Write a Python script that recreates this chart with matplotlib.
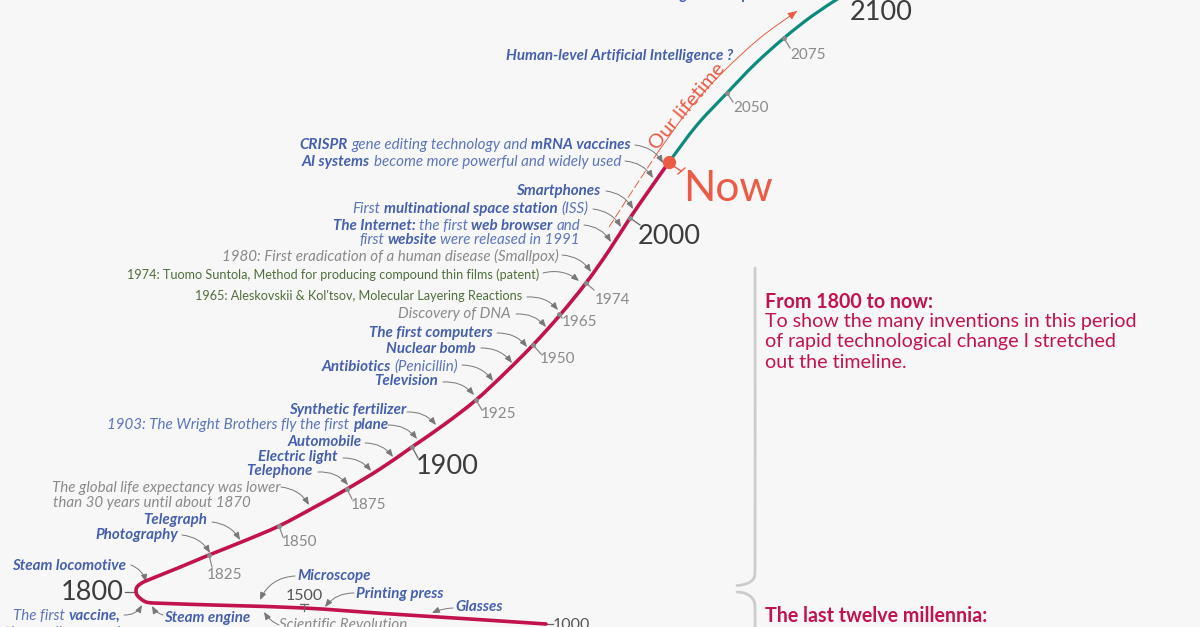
"""Timeline of technology: stretched curve from the last millennia to 2100."""

import matplotlib
matplotlib.use('Agg')
import matplotlib.pyplot as plt
import numpy as np
from matplotlib.patches import FancyArrowPatch, PathPatch
from matplotlib.path import Path

plt.rcParams['font.family'] = ['Lato', 'DejaVu Sans']

BG = '#f7f7f7'
CRIMSON = '#c2124f'
TEAL = '#0c8a7c'
CORAL = '#ea5c45'
BLUE = '#4660ad'
LIGHT_BLUE = '#5d75bb'
GREY = '#8a8a8a'
DARK = '#3c3c3c'
GREEN = '#4f6f3c'
ARROW = '#777777'
BRACKET = '#cccccc'

# Curve, pixel positions from 1000 to now
past_x = [546, 470, 384, 304, 230, 153, 146, 141, 137, 136, 137, 141, 147, 178, 209, 244, 279, 313,
          347, 380, 412, 445, 476, 505, 533, 560, 586, 608, 630, 650, 669]
past_y = [624, 619, 613.5, 608, 605.5, 603, 602, 599, 595, 591, 587, 583.5, 580.5, 568, 555, 541, 526, 508,
          489, 469, 447, 424, 400, 373, 345, 315, 283, 252, 218, 189, 162]
future_x = [669, 697, 727, 755, 784, 812, 842]
future_y = [162, 125, 93, 64, 38, 16, -4]

# Thin "Our lifetime" line
life_dash_x = [609, 633, 658]
life_dash_y = [227, 190, 152]
life_x = [658, 690, 723, 760, 797]
life_y = [152, 108, 72, 38, 11]

# Year ticks: label, curve point, tick end, label left edge, label y
small_years = ['1825', '1850', '1875', '1925', '1950', '1965', '1974', '2050', '2075']
small_tick_x = [209, 279, 347, 476, 533, 559, 586, 727, 784]
small_tick_y = [555, 526, 489, 400, 345, 314, 283, 93, 38]
small_end_x = [212, 283, 352, 482, 541, 562, 594, 733, 790]
small_end_y = [567, 537, 499, 410, 354, 318, 290, 102, 48]
small_label_x = [207, 282, 351, 481, 540, 562, 595, 733, 790]
small_label_y = [573, 540, 503, 412, 357, 320, 298, 106, 53]

big_years = ['1900', '2000', '2100']
big_tick_x = [412, 630]
big_tick_y = [447, 218]
big_end_x = [418, 640]
big_end_y = [458, 225]
big_label_x = [416, 638, 850]
big_label_y = [464, 234, 11]

# Blue/grey notes: text runs as (text, bold), right edge, y, colour
notes = [
    ([('Steam locomotive', True)], 126, 565, BLUE),
    ([('Photography', True)], 178, 534, BLUE),
    ([('Telegraph', True)], 207, 519, BLUE),
    ([('Telephone', True)], 313, 470, BLUE),
    ([('Electric light', True)], 338, 456, BLUE),
    ([('Automobile', True)], 362, 441, BLUE),
    ([('1903: The Wright Brothers fly the first', False), ('plane', True)], 388, 424, BLUE),
    ([('Synthetic fertilizer', True)], 406, 409, BLUE),
    ([('Television', True)], 438, 380, BLUE),
    ([('Antibiotics', True), ('(Penicillin)', False)], 458, 366, BLUE),
    ([('Nuclear bomb', True)], 476, 348, BLUE),
    ([('The first computers', True)], 493, 332, BLUE),
    ([('Discovery of DNA', False)], 511, 313, GREY),
    ([('1980: First eradication of a human disease (Smallpox)', False)], 559, 255, GREY),
    ([('first', False), ('website', True), ('were released in 1991', False)], 580, 239, BLUE),
    ([('The Internet:', True), ('the first', False), ('web browser', True), ('and', False)], 580, 225, BLUE),
    ([('First', False), ('multinational space station', True), ('(ISS)', False)], 588, 208, BLUE),
    ([('Smartphones', True)], 600, 190, BLUE),
    ([('AI systems', True), ('become more powerful and widely used', False)], 621, 161, BLUE),
    ([('CRISPR', True), ('gene editing technology and', False), ('mRNA vaccines', True)], 631, 144, BLUE),
    ([('Human-level Artificial Intelligence ?', True)], 733, 55, BLUE),
    ([('Microscope', True)], 371, 575, BLUE),
    ([('Printing press', True)], 444, 593, BLUE),
    ([('Glasses', True)], 503, 606, BLUE),
    ([('Steam engine', True)], 250, 617, BLUE),
    ([('Scientific Revolution', False)], 407, 624, GREY),
    ([('The first', False), ('vaccine,', True)], 120, 615, BLUE),
    ([('the smallpox vaccine', False)], 135, 632, BLUE),
    ([('The global life expectancy was lower', False)], 280, 487, GREY),
    ([('than 30 years until about 1870', False)], 251, 502, GREY),
]

green_notes = ['1965: Aleskovskii & Kol\'tsov, Molecular Layering Reactions',
               '1974: Tuomo Suntola, Method for producing compound thin films (patent)']
green_right = [522, 539]
green_y = [295, 274]

# Arrows from notes to the curve: start x, start y, end x, end y, bend
arrow_x0 = [131, 182, 212, 281, 318, 343, 365, 388, 407, 443, 462, 481, 497, 516, 527, 543, 562, 584, 593, 606, 625, 635,
            295, 354, 453, 163, 279, 124]
arrow_y0 = [565, 535, 522, 487, 472, 458, 443, 425, 412, 382, 365, 348, 333, 314, 297, 273, 255, 225, 209, 191, 161, 145,
            576, 593, 608, 615, 625, 615]
arrow_x1 = [146, 210, 240, 309, 348, 371, 393, 417, 436, 474, 493, 512, 527, 546, 558, 579, 591, 611, 621, 633, 653, 663,
            260, 325, 432, 152, 264, 142]
arrow_y1 = [582, 553, 540, 505, 485, 471, 457, 439, 425, 395, 381, 363, 347, 327, 310, 281, 272, 242, 227, 209, 178, 163,
            600, 607, 613, 606, 612, 605]
arrow_bend = [-0.25] * 22 + [0.3, 0.25, 0.1, -0.2, -0.15, 0.3]

# Bracket on the right
bracket_top_x = [755, 755, 754, 750, 744, 737]
bracket_top_y = [268, 570, 578, 582, 584.5, 585.5]
bracket_low_x = [737, 744, 750, 754, 755, 755]
bracket_low_y = [592, 593, 596, 601, 608, 630]

side_head = ['From 1800 to now:', 'The last twelve millennia:']
side_head_y = [301, 615]
side_lines = ['To show the many inventions in this period',
              'of rapid technological change I stretched',
              'out the timeline.']
side_lines_y = [321, 341, 361]

fig = plt.figure(figsize=(12, 6.27), dpi=100, facecolor=BG)
ax = fig.add_axes([0, 0, 1, 1])
ax.set_xlim(0, 1200)
ax.set_ylim(627, 0)
ax.axis('off')
renderer = fig.canvas.get_renderer()


def smooth_path(xs, ys):
    """Bezier path through the read points, so the line has no corners."""
    pts = np.column_stack([xs, ys]).astype(float)
    tangents = np.gradient(pts, axis=0)
    tangents /= np.linalg.norm(tangents, axis=1, keepdims=True)
    verts = [pts[0]]
    codes = [Path.MOVETO]
    for i in range(len(pts) - 1):
        seg = np.linalg.norm(pts[i + 1] - pts[i]) / 3
        verts += [pts[i] + tangents[i] * seg, pts[i + 1] - tangents[i + 1] * seg, pts[i + 1]]
        codes += [Path.CURVE4] * 3
    return Path(verts, codes)


def draw_smooth(xs, ys, **kwargs):
    ax.add_patch(PathPatch(smooth_path(xs, ys), fill=False, **kwargs))


def rich_right(runs, right, y, color, size=10.9, gap=3.5):
    """Write runs of bold and regular italic text ending at pixel x = right."""
    x = right
    for text, bold in reversed(runs):
        t = ax.text(x, y, text, ha='right', va='center', fontsize=size, style='italic',
                    fontweight='bold' if bold else 'normal',
                    color=color if bold or color != BLUE else LIGHT_BLUE)
        x = t.get_window_extent(renderer).x0 - gap


draw_smooth(past_x, past_y, edgecolor=CRIMSON, lw=2.6, capstyle='round', joinstyle='round', zorder=3)
draw_smooth(future_x, future_y, edgecolor=TEAL, lw=2.3, capstyle='round', zorder=3)

# Ticks sit under the year labels and on top of the curve
for x0, y0, x1, y1 in zip(small_tick_x, small_tick_y, small_end_x, small_end_y):
    ax.plot([x0, x1], [y0, y1], color=GREY, lw=0.9, zorder=4)
    ax.plot([x0], [y0], 'o', color=GREY, ms=2.5, zorder=4)
for x0, y0, x1, y1 in zip(big_tick_x, big_tick_y, big_end_x, big_end_y):
    ax.plot([x0, x1], [y0, y1], color='#666666', lw=0.9, zorder=4)
    ax.plot([x0], [y0], 'o', color=GREY, ms=2.5, zorder=4)

for year, x, y in zip(small_years, small_label_x, small_label_y):
    ax.text(x, y + 2, year, ha='left', va='center', fontsize=11, color=GREY)
for year, x, y in zip(big_years, big_label_x, big_label_y):
    ax.text(x, y + 2, year, ha='left', va='center', fontsize=19.5, color=DARK)

# Years that sit on the flat part of the curve
ax.text(124, 593, '1800', ha='right', va='center', fontsize=19.5, color=DARK)
ax.plot([125, 137], [592, 592], color='#666666', lw=0.9, zorder=2)
ax.text(304.5, 596, '1500', ha='center', va='center', fontsize=11.5, color='#555555')
ax.plot([304, 304], [604, 611], color='#666666', lw=0.9, zorder=4)
ax.plot([300, 308], [604, 604], color='#666666', lw=0.9)
ax.text(553, 625, '1000', ha='left', va='center', fontsize=11.5, color='#555555')
ax.plot([545, 553], [624, 624], color='#666666', lw=0.9)

# Our lifetime
ax.plot(life_dash_x, life_dash_y, color=CORAL, lw=0.7, dashes=(9, 3))
draw_smooth(life_x, life_y, edgecolor=CORAL, lw=0.7)
ax.add_patch(FancyArrowPatch((life_x[-2], life_y[-2]), (life_x[-1], life_y[-1]),
                             arrowstyle='-|>,head_length=3,head_width=1.3',
                             color=CORAL, lw=0.0, shrinkA=0, shrinkB=0, mutation_scale=2.2))
ax.text(687, 106, 'Our lifetime', rotation=50, rotation_mode='anchor', ha='center', va='center',
        fontsize=14.6, color=CORAL, zorder=5)

# Now marker
ax.plot([669, 681], [163, 171], color=CORAL, lw=1)
ax.plot([678, 685], [174, 168], color=CORAL, lw=1)
ax.plot([669], [162], 'o', color=CORAL, ms=8.5, zorder=6)
ax.text(683, 189, 'Now', ha='left', va='center', fontsize=30.5, color=CORAL)

# Notes and arrows
for runs, right, y, color in notes:
    rich_right(runs, right, y + 1, color)
for text, right, y in zip(green_notes, green_right, green_y):
    ax.text(right, y + 1, text, ha='right', va='center', fontsize=9.1, color=GREEN)
# Descenders of the line cut off by the top edge
ax.text(683, -5, 'g', ha='center', va='center', fontsize=10.9, style='italic', fontweight='bold', color=BLUE)
ax.text(745, -5, 'p', ha='center', va='center', fontsize=10.9, style='italic', fontweight='bold', color=BLUE)

for x0, y0, x1, y1, bend in zip(arrow_x0, arrow_y0, arrow_x1, arrow_y1, arrow_bend):
    ax.add_patch(FancyArrowPatch((x0, y0), (x1, y1), connectionstyle=f'arc3,rad={bend}',
                                 arrowstyle='-|>,head_length=3.2,head_width=1.3', color=ARROW, lw=0.7,
                                 shrinkA=0, shrinkB=0, mutation_scale=1.4, zorder=2))

# Right hand side
draw_smooth(bracket_top_x, bracket_top_y, edgecolor=BRACKET, lw=2, capstyle='round')
draw_smooth(bracket_low_x, bracket_low_y, edgecolor=BRACKET, lw=2, capstyle='round')
for text, y in zip(side_head, side_head_y):
    ax.text(765, y + 1, text, ha='left', va='center', fontsize=14.1, fontweight='bold', color=CRIMSON)
for text, y in zip(side_lines, side_lines_y):
    ax.text(765, y + 1, text, ha='left', va='center', fontsize=14.1, color=CRIMSON)

fig.savefig('out.png', dpi=100, facecolor=BG)
plt.close(fig)
